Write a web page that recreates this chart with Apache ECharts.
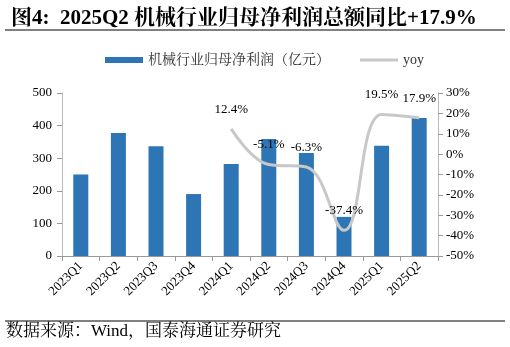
<!DOCTYPE html>
<html><head><meta charset="utf-8">
<script src="https://cdn.jsdelivr.net/npm/echarts@6/dist/echarts.min.js"></script>
<style>html,body{margin:0;padding:0;background:#fff}#c{width:510px;height:347px}</style>
</head><body><div id="c"></div>
<script>
var categories = ['2023Q1','2023Q2','2023Q3','2023Q4','2024Q1','2024Q2','2024Q3','2024Q4','2025Q1','2025Q2'];
var profit = [250, 377, 337, 190, 282, 359, 316, 120, 338, 423];
var yoy = [null, null, null, null, 12.4, -5.1, -6.3, -37.4, 19.5, 17.9];
var leftTicks = [0, 500, 100];
var rightTicks = [-50, 30, 10];
var serif = '"Liberation Serif","Times New Roman","Noto Serif CJK SC","Noto Sans CJK SC",serif';
var chart = echarts.init(document.getElementById('c'));
chart.setOption({
  animation: false,
  title: {text: '图4:  2025Q2 机械行业归母净利润总额同比+17.9%', left: 6, top: 3,
    textStyle: {fontFamily: serif, fontSize: 21, fontWeight: 'bold', color: '#000'}},
  graphic: [
    {type: 'line', shape: {x1: 5, y1: 30, x2: 505, y2: 30}, style: {stroke: '#000', lineWidth: 1}},
    {type: 'line', shape: {x1: 5, y1: 321, x2: 505, y2: 321}, style: {stroke: '#000', lineWidth: 1}},
    {type: 'text', left: 6, top: 323, style: {text: '数据来源：Wind，国泰海通证券研究', font: '17px ' + serif, fill: '#000'}}
  ],
  legend: {top: 48, left: 100, itemGap: 30, itemWidth: 38, itemHeight: 6,
    textStyle: {fontFamily: serif, fontSize: 14, color: '#333'},
    data: [{name: '机械行业归母净利润（亿元）', icon: 'rect', itemStyle: {color: '#2E75B6'}},
           {name: 'yoy', icon: 'path://M0,0H38V3H0Z', itemStyle: {color: '#c8c8c8'}}]},
  grid: {left: 62, right: 72, top: 93, bottom: 91},
  xAxis: {type: 'category', data: categories, boundaryGap: true,
    axisLine: {lineStyle: {color: '#999'}}, axisTick: {show: true, lineStyle: {color: '#999'}, length: 5},
    axisLabel: {rotate: 45, fontFamily: serif, fontSize: 13, color: '#000', margin: 8}},
  yAxis: [
    {type: 'value', min: leftTicks[0], max: leftTicks[1], interval: leftTicks[2],
      splitLine: {show: false}, axisLine: {show: true, lineStyle: {color: '#bbb'}},
      axisTick: {show: true, inside: false, length: 5, lineStyle: {color: '#999'}},
      axisLabel: {fontFamily: serif, fontSize: 13, color: '#000', margin: 10}},
    {type: 'value', min: rightTicks[0], max: rightTicks[1], interval: rightTicks[2],
      splitLine: {show: false}, axisLine: {show: true, lineStyle: {color: '#bbb'}},
      axisTick: {show: true, length: 5, lineStyle: {color: '#999'}},
      axisLabel: {fontFamily: serif, fontSize: 13, color: '#000', margin: 8, formatter: '{value}%'}}
  ],
  series: [
    {name: '机械行业归母净利润（亿元）', type: 'bar', data: profit, barWidth: 15, z: 1,
      itemStyle: {color: '#2E75B6'}},
    {name: 'yoy', type: 'line', yAxisIndex: 1, data: yoy, smooth: 0.4, showSymbol: true, symbol: 'circle', symbolSize: 0.01,
      connectNulls: false, z: 3,
      lineStyle: {color: '#c8c8c8', width: 3}, itemStyle: {color: '#c8c8c8'},
      label: {show: true, position: 'top', distance: 13, fontFamily: serif, fontSize: 13, color: '#000',
        formatter: function(p){return p.value.toFixed(1) + '%';}}}
  ]
});
</script></body></html>
